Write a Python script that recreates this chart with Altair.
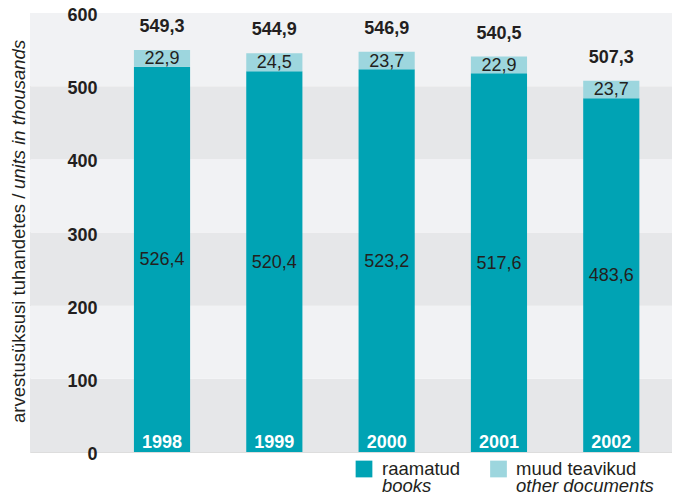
import altair as alt
import pandas as pd

years = ["1998", "1999", "2000", "2001", "2002"]
books = [526.4, 520.4, 523.2, 517.6, 483.6]
other = [22.9, 24.5, 23.7, 22.9, 23.7]
totals = [549.3, 544.9, 546.9, 540.5, 507.3]
y_ticks = [0, 100, 200, 300, 400, 500, 600]
band_lo = [0, 100, 200, 300, 400, 500]
band_hi = [100, 200, 300, 400, 500, 600]
band_shade = ["dark", "light", "dark", "light", "dark", "light"]
title_main = "arvestusüksusi tuhandetes / "
title_en = "units in thousands"
leg_et = ["raamatud", "muud teavikud"]
leg_en = ["books", "other documents"]

TEAL = "#00a3b4"
LIGHT = "#9dd6de"
DARK_BAND = "#e6e7e9"
LIGHT_BAND = "#f1f2f4"
INK = "#231f20"
FONT = "Liberation Sans"
W, H = 642, 439


def fmt(v):
    return f"{v:.1f}".replace(".", ",")


df = pd.DataFrame({"year": years, "books": books, "other": other, "total": totals})
df["zero"] = 0.0
df["books_mid"] = df["books"] / 2
df["other_mid"] = (df["books"] + df["total"]) / 2
df["books_lbl"] = [fmt(v) for v in books]
df["other_lbl"] = [fmt(v) for v in other]
df["total_lbl"] = [fmt(v) for v in totals]

bands = pd.DataFrame({"lo": band_lo, "hi": band_hi, "shade": band_shade})

yscale = alt.Scale(domain=[0, 600], nice=False, zero=True)
yaxis = alt.Axis(values=y_ticks, offset=-67, labelPadding=0, ticks=False, tickSize=0,
                 domain=False, grid=False, title=None, labelFont=FONT, labelFontSize=18,
                 labelFontWeight="bold", labelColor=INK, labelOffset=2.5, zindex=1)
xenc = alt.X("year:N", scale=alt.Scale(paddingInner=0.5, paddingOuter=0.608, align=0.761), axis=None)

band_layer = alt.Chart(bands).mark_rect().encode(
    y=alt.Y("lo:Q", scale=yscale, axis=yaxis),
    y2="hi:Q",
    x=alt.value(0),
    x2=alt.value(W),
    color=alt.Color("shade:N", scale=alt.Scale(domain=["dark", "light"], range=[DARK_BAND, LIGHT_BAND]), legend=None),
)

base = alt.Chart(df)
books_bar = base.mark_bar(color=TEAL).encode(
    x=xenc, y=alt.Y("zero:Q", scale=yscale, axis=yaxis), y2="books:Q")
other_bar = base.mark_bar(color=LIGHT).encode(
    x=xenc, y=alt.Y("books:Q", scale=yscale, axis=yaxis), y2="total:Q")

txt = dict(font=FONT, fontSize=18, color=INK, align="center")
total_txt = base.mark_text(fontWeight="bold", baseline="alphabetic", dy=-18, **txt).encode(
    x=xenc, y=alt.Y("total:Q", scale=yscale, axis=yaxis), text="total_lbl:N")
other_txt = base.mark_text(baseline="middle", dy=1, **txt).encode(
    x=xenc, y=alt.Y("other_mid:Q", scale=yscale, axis=yaxis), text="other_lbl:N")
books_txt = base.mark_text(baseline="middle", dy=1, **txt).encode(
    x=xenc, y=alt.Y("books_mid:Q", scale=yscale, axis=yaxis), text="books_lbl:N")
year_txt = base.mark_text(font=FONT, fontSize=18, fontWeight="bold", color="white", align="center",
                          baseline="alphabetic", dy=-4).encode(
    x=xenc, y=alt.Y("zero:Q", scale=yscale, axis=yaxis), text="year:N")

tsize = 18.5
t1 = alt.Chart(pd.DataFrame({"t": [title_main]})).mark_text(
    angle=270, align="left", baseline="alphabetic", font=FONT, fontSize=tsize, color=INK
).encode(x=alt.value(-5), y=alt.value(410), text="t:N")
t2 = alt.Chart(pd.DataFrame({"t": [title_en]})).mark_text(
    angle=270, align="left", baseline="alphabetic", font=FONT, fontSize=tsize, color=INK, fontStyle="italic"
).encode(x=alt.value(-5), y=alt.value(410 - 234), text="t:N")

one = pd.DataFrame({"a": [0]})
sq1 = alt.Chart(one).mark_square(size=280, color=TEAL, opacity=1).encode(x=alt.value(334), y=alt.value(456))
sq2 = alt.Chart(one).mark_square(size=280, color=LIGHT, opacity=1).encode(x=alt.value(468.5), y=alt.value(456))
lt = dict(font=FONT, fontSize=18.5, color=INK, align="left", baseline="alphabetic")
l1a = alt.Chart(pd.DataFrame({"t": [leg_et[0]]})).mark_text(**lt).encode(x=alt.value(352), y=alt.value(462), text="t:N")
l1b = alt.Chart(pd.DataFrame({"t": [leg_en[0]]})).mark_text(fontStyle="italic", **lt).encode(x=alt.value(352), y=alt.value(479), text="t:N")
l2a = alt.Chart(pd.DataFrame({"t": [leg_et[1]]})).mark_text(**lt).encode(x=alt.value(486), y=alt.value(462), text="t:N")
l2b = alt.Chart(pd.DataFrame({"t": [leg_en[1]]})).mark_text(fontStyle="italic", **lt).encode(x=alt.value(486), y=alt.value(479), text="t:N")

chart = alt.layer(
    band_layer, books_bar, other_bar, total_txt, other_txt, books_txt, year_txt,
    t1, t2, sq1, sq2, l1a, l1b, l2a, l2b
).properties(
    width=W, height=H,
    autosize=alt.AutoSizeParams(type="none"),
    padding={"left": 22, "top": 5, "right": 0, "bottom": 42},
).configure_view(stroke=None).configure(background="white")

chart.save("out.html", embed_options={"renderer": "svg", "actions": False})
